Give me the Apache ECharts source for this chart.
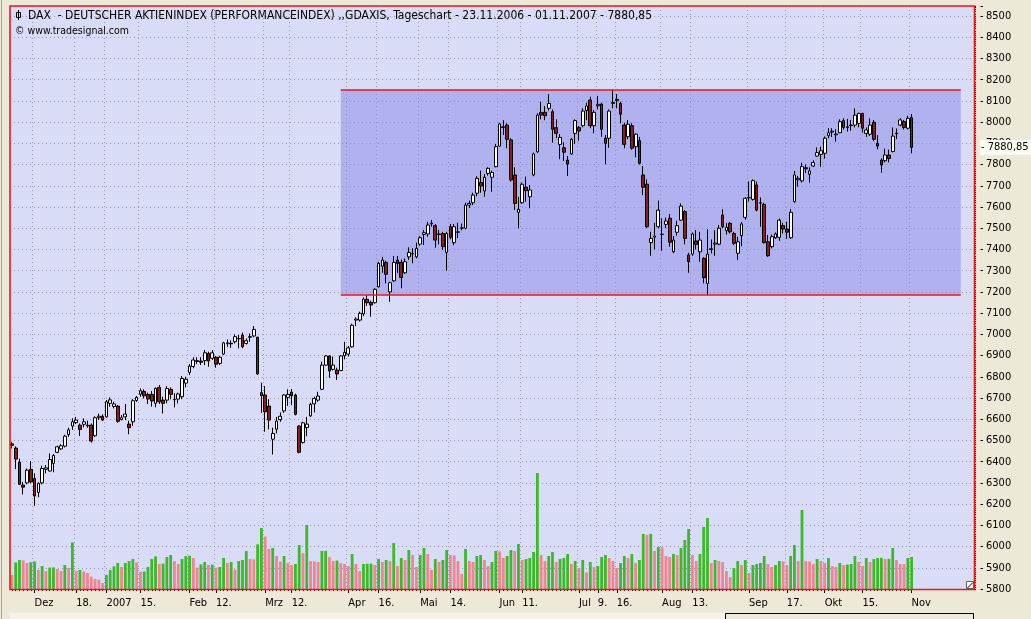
<!DOCTYPE html>
<html><head><meta charset="utf-8">
<script src="https://cdn.jsdelivr.net/npm/echarts/dist/echarts.min.js"></script>
<style>html,body{margin:0;padding:0;background:#ECE9D8;overflow:hidden}#c{width:1031px;height:619px}</style>
</head><body><div id="c"></div>
<script>
const FONT = '"Liberation Sans Narrow","DejaVu Sans Condensed","Liberation Sans",sans-serif';

// ---- calendar ----
const FIRST_DAY = '2006-11-23';
const HOLIDAYS = ['2006-12-25','2006-12-26','2007-01-01','2007-04-06','2007-04-09','2007-05-01','2007-05-28'];
const FUTURE_SLOTS = 16;

// ---- daily OHLC ----
const OPEN = [6484,6464,6397,6290,6300,6364,6321,6255,6300,6364,
6356,6392,6444,6460,6473,6527,6568,6584,6572,6576,
6568,6572,6522,6607,6614,6611,6675,6660,6662,6598,
6611,6577,6588,6688,6718,6731,6717,6717,6675,6750,
6690,6690,6741,6692,6695,6706,6770,6820,6848,6872,
6874,6876,6910,6887,6892,6863,6907,6957,6958,6965,
6980,6997,6957,6986,6992,6986,6725,6714,6662,6506,
6553,6598,6639,6703,6727,6714,6568,6490,6561,6616,
6672,6690,6741,6855,6898,6835,6832,6829,6899,6907,
6941,7067,7067,7096,7165,7151,7149,7224,7321,7339,
7200,7252,7350,7339,7290,7365,7379,7365,7425,7471,
7473,7520,7512,7473,7475,7386,7507,7432,7481,7500,
7500,7609,7620,7665,7715,7675,7758,7740,7790,7887,
7975,7986,7916,7751,7575,7620,7693,7648,7751,7860,
8046,8046,8065,8049,7974,7895,7879,7821,7850,7947,
7974,7983,8054,8104,7983,8077,8085,7924,7924,8088,
8101,8088,7986,7931,7983,7884,7913,7751,7707,7432,
7458,7507,7470,7518,7547,7389,7481,7538,7578,7374,
7378,7440,7389,7358,7240,7403,7425,7425,7562,7488,
7523,7475,7382,7465,7551,7643,7636,7704,7620,7612,
7436,7413,7455,7457,7512,7496,7455,7625,7728,7723,
7785,7754,7793,7840,7848,7853,7936,7953,7940,7950,
8007,7974,7983,7986,7994,8041,7947,7943,7999,7900,
7821,7818,7845,7861,7945,7986,8002,7971,8021];
const CLOSE = [6477,6412,6293,6280,6360,6305,6238,6298,6368,6371,
6410,6429,6470,6475,6520,6550,6588,6596,6552,6588,
6572,6497,6607,6614,6596,6682,6691,6672,6590,6607,
6624,6560,6687,6703,6734,6710,6695,6686,6745,6682,
6675,6745,6717,6694,6719,6792,6788,6850,6879,6876,
6868,6913,6874,6913,6859,6892,6960,6960,6955,6989,
6979,6941,6970,6989,7023,6813,6711,6635,6596,6533,
6591,6614,6714,6717,6711,6623,6444,6583,6577,6670,
6698,6709,6855,6898,6827,6855,6813,6898,6915,6936,
7043,7072,7099,7166,7149,7138,7212,7334,7350,7283,
7243,7339,7334,7268,7342,7386,7381,7405,7455,7479,
7515,7524,7444,7471,7413,7475,7457,7507,7483,7502,
7609,7617,7656,7735,7699,7740,7782,7763,7884,7991,
7978,7919,7727,7617,7589,7707,7677,7680,7850,8033,
8033,8030,8088,7966,7947,7928,7858,7802,7919,8007,
7958,8052,8076,7983,8046,8084,7966,7900,8052,8092,
8107,8037,7895,7990,7877,7943,7806,7693,7507,7452,
7463,7585,7472,7534,7434,7444,7512,7604,7452,7342,
7473,7424,7444,7267,7378,7400,7430,7500,7507,7504,
7483,7429,7436,7520,7641,7645,7724,7585,7618,7432,
7370,7460,7473,7538,7496,7481,7575,7751,7735,7790,
7780,7770,7809,7856,7865,7924,7950,7957,7944,8002,
7975,7978,7986,8033,8041,7971,7963,7986,7919,7887,
7798,7845,7829,7934,7948,8010,7975,8018,7880.85];
const LOW = [6462,6365,6290,6246,6293,6298,6192,6232,6293,6345,
6353,6350,6440,6455,6467,6517,6549,6577,6520,6562,
6560,6489,6517,6596,6591,6608,6659,6651,6583,6595,
6596,6529,6568,6682,6706,6698,6672,6659,6656,6672,
6627,6675,6694,6656,6675,6694,6750,6808,6840,6860,
6855,6855,6847,6880,6843,6855,6902,6941,6936,6957,
6934,6934,6952,6965,6986,6808,6630,6541,6552,6434,
6533,6588,6630,6663,6666,6618,6439,6486,6520,6611,
6632,6682,6737,6852,6795,6830,6785,6827,6882,6895,
6938,7039,7060,7086,7134,7083,7145,7221,7290,7240,
7153,7248,7288,7217,7285,7350,7335,7358,7418,7421,
7460,7507,7408,7424,7397,7300,7448,7420,7453,7490,
7495,7595,7609,7650,7667,7648,7748,7672,7787,7884,
7939,7877,7719,7586,7500,7615,7625,7594,7745,7855,
8013,8009,8054,7903,7924,7825,7817,7746,7845,7897,
7912,7975,8009,7971,7947,8060,7931,7801,7879,8065,
8065,7994,7877,7919,7870,7834,7800,7656,7500,7370,
7400,7500,7394,7500,7413,7382,7465,7534,7424,7290,
7370,7400,7342,7240,7186,7381,7370,7420,7500,7470,
7475,7420,7350,7415,7540,7625,7630,7580,7507,7428,
7365,7405,7450,7440,7475,7450,7449,7620,7696,7715,
7760,7715,7788,7837,7790,7828,7924,7930,7908,7947,
7965,7955,7960,7975,7975,7950,7930,7935,7910,7872,
7762,7810,7810,7858,7920,7980,7965,7965,7853];
const HIGH = [6494,6472,6414,6305,6368,6403,6345,6302,6381,6384,
6439,6436,6475,6482,6527,6560,6604,6611,6580,6604,
6593,6580,6614,6627,6623,6690,6703,6682,6667,6620,
6672,6593,6695,6709,6745,6741,6725,6733,6750,6761,
6706,6756,6750,6722,6725,6803,6800,6860,6892,6892,
6892,6926,6918,6926,6898,6898,6965,6976,6972,7000,
6997,7008,6981,7004,7039,6989,6772,6756,6694,6560,
6611,6632,6719,6741,6742,6720,6572,6588,6611,6678,
6706,6729,6871,6902,6902,6895,6843,6902,6965,6945,
7050,7080,7107,7174,7185,7159,7217,7342,7365,7347,
7248,7369,7369,7353,7358,7410,7405,7432,7463,7492,
7530,7539,7520,7492,7483,7483,7520,7520,7526,7522,
7620,7630,7667,7745,7771,7755,7787,7771,7897,7997,
8009,7994,7924,7787,7648,7715,7743,7704,7856,8041,
8096,8076,8132,8060,8013,7944,7905,7840,7924,8013,
7981,8065,8091,8120,8057,8123,8091,7939,8060,8153,
8132,8096,7997,8009,7995,7947,7930,7793,7730,7483,
7526,7630,7547,7550,7567,7463,7535,7617,7585,7384,
7480,7492,7483,7363,7495,7447,7490,7515,7589,7525,
7530,7483,7460,7530,7645,7720,7730,7720,7645,7620,
7468,7470,7480,7545,7525,7530,7590,7770,7746,7809,
7800,7787,7820,7881,7884,7932,7971,7971,7966,8013,
8018,8015,8010,8065,8044,8044,7975,8018,8010,7939,
7829,7875,7870,7975,7970,8018,8010,8030,8038];
// volume, Mio.
const VOLUME = [70,133,145,143,130,134,138,95,115,90,
107,108,100,90,120,105,233,90,95,88,
80,62,50,47,30,70,95,113,130,110,
130,140,150,133,87,88,110,150,163,125,
127,160,170,140,125,150,165,166,155,107,
123,135,120,122,107,110,155,130,135,97,
140,145,190,150,148,223,305,262,200,205,
165,137,165,130,120,125,220,180,320,140,
138,135,190,191,160,140,142,130,125,115,
175,125,90,125,126,127,120,150,135,145,
140,230,115,155,145,195,170,110,170,205,
175,95,150,135,145,195,170,168,140,75,
200,140,135,165,170,145,115,135,190,188,
155,165,195,190,225,145,150,155,185,580,
170,140,165,185,135,150,155,175,125,140,
105,145,83,135,110,115,160,170,155,140,
105,130,165,155,175,130,145,275,270,276,
190,210,209,165,160,175,170,205,245,300,
170,140,175,310,355,130,145,140,135,90,
60,105,140,120,145,80,120,125,130,165,
125,110,120,140,138,120,165,220,140,395,
140,138,125,150,140,130,155,115,110,130,
120,122,125,165,135,115,155,135,150,155,
156,150,151,205,145,125,124,155,160];

// ---- x tick labels ----
const TICK_DATES = ['01.12.2006','18.12.2006','02.01.2007','15.01.2007','01.02.2007','12.02.2007','01.03.2007','12.03.2007','02.04.2007','16.04.2007','02.05.2007','14.05.2007','01.06.2007','11.06.2007','02.07.2007','09.07.2007','16.07.2007','01.08.2007','13.08.2007','03.09.2007','17.09.2007','01.10.2007','15.10.2007','01.11.2007'];
const TICK_TEXT = ['Dez','18.','2007','15.','Feb','12.','Mrz','12.','Apr','16.','Mai','14.','Jun','11.','Jul','9.','16.','Aug','13.','Sep','17.','Okt','15.','Nov'];

// ---- trading range box ----
const RANGE_HIGH = 8153, RANGE_LOW = 7186;
const RANGE_FROM = '29.03.2007', RANGE_TO = '20.11.2007';

// ---- build categories ----
function pad(n){return n<10?'0'+n:''+n;}
function buildDays(startISO, count){
  const out=[]; const d=new Date(startISO+'T00:00:00Z');
  while(out.length<count){
    const wd=d.getUTCDay();
    const iso=d.getUTCFullYear()+'-'+pad(d.getUTCMonth()+1)+'-'+pad(d.getUTCDate());
    if(wd!==0&&wd!==6&&HOLIDAYS.indexOf(iso)<0){
      out.push(pad(d.getUTCDate())+'.'+pad(d.getUTCMonth()+1)+'.'+d.getUTCFullYear());
    }
    d.setUTCDate(d.getUTCDate()+1);
  }
  return out;
}
const N = OPEN.length;
const CATS = buildDays(FIRST_DAY, N + FUTURE_SLOTS);
const LABEL_OF = {}; TICK_DATES.forEach((d,i)=>{LABEL_OF[d]=TICK_TEXT[i];});
const isMajor = (idx)=> LABEL_OF[CATS[idx]] !== undefined;
const LAST = CLOSE[N-1];
const fmt = v => v.toFixed(2).replace('.', ',');

const GREEN = '#3CB82A', PINK = '#EE8590';
const GRIDC = '#9898B0';
const RED = '#F01418';

const chart = echarts.init(document.getElementById('c'), null, {renderer:'canvas'});
chart.setOption({
  animation:false,
  backgroundColor:'#ECE9D8',
  textStyle:{fontFamily:FONT},
  grid:{left:10, top:6, width:964, height:583, show:true, backgroundColor:'#D9DCF6', borderWidth:0, containLabel:false, outerBoundsMode:'none'},
  xAxis:[{
    type:'category', data:CATS, boundaryGap:true,
    axisLine:{show:false},
    axisTick:{show:true, alignWithLabel:true, interval:isMajor, length:4, lineStyle:{color:'#000'}},
    axisLabel:{show:true, interval:isMajor, formatter:(v)=>LABEL_OF[v]||'', align:'left', margin:9, color:'#000', fontSize:11, fontFamily:FONT, hideOverlap:false},
    splitLine:{show:true, interval:isMajor, lineStyle:{color:GRIDC, type:[1,3], width:1}}
  },{
    type:'category', data:CATS, boundaryGap:true, position:'bottom',
    axisLine:{show:false},
    axisTick:{show:true, alignWithLabel:true, interval:(i)=>i<N, length:2, lineStyle:{color:'#000'}},
    axisLabel:{show:false}, splitLine:{show:false}
  }],
  yAxis:[{
    type:'value', position:'right', min:5800, max:8547, interval:100, scale:false,
    axisLine:{show:false},
    axisTick:{show:true, length:9, lineStyle:{color:'#000', type:[2,4.5,3]}},
    minorTick:{show:true, splitNumber:10, length:2, lineStyle:{color:'#000'}},
    axisLabel:{margin:12, color:'#000', fontSize:11, fontFamily:FONT, showMaxLabel:false,
      formatter:(v)=> (Math.abs(v % 100) < 1e-6 ? String(v) : '')},
    splitLine:{show:true, lineStyle:{color:GRIDC, type:[1,3], width:1}}
  },{
    type:'value', min:0, max:2915, show:false, splitLine:{show:false}
  }],
  series:[{
    name:'Range', type:'line', data:[], z:1, silent:true,
    markArea:{silent:true, itemStyle:{color:'rgba(130,132,232,0.47)', borderWidth:0},
      data:[[{xAxis:RANGE_FROM, yAxis:RANGE_HIGH},{xAxis:RANGE_TO, yAxis:RANGE_LOW}]]}
  },{
    name:'Volumen', type:'bar', xAxisIndex:0, yAxisIndex:1, barWidth:2.8, z:2,
    data: VOLUME.map((v,i)=>({value:v, itemStyle:{color:(i>0 && v>VOLUME[i-1])?GREEN:PINK}}))
  },{
    name:'DAX', type:'candlestick', xAxisIndex:0, yAxisIndex:0, barWidth:3.2, z:3,
    data: OPEN.map((o,i)=>[o, CLOSE[i], LOW[i], HIGH[i]]),
    itemStyle:{color:'#FFFFFF', color0:'#8E1C1C', borderColor:'#000000', borderColor0:'#000000', borderWidth:1},
    markLine:{silent:true, symbol:['none','none'], lineStyle:{color:'rgba(0,0,0,0)', width:0},
      label:{show:true, position:'end', distance:6, formatter:'- '+fmt(LAST), color:'#000', fontSize:11, fontFamily:FONT,
        backgroundColor:'#FBFBF1', padding:[2,4,2,1]},
      data:[{yAxis:LAST}]}
  },{
    name:'RangeLines', type:'line', data:[], z:4, silent:true,
    markLine:{silent:true, symbol:['none','none'], label:{show:false},
      lineStyle:{color:RED, type:'solid', width:1.6, opacity:1},
      emphasis:{disabled:true},
      data:[[{coord:[RANGE_FROM, RANGE_HIGH]},{coord:[RANGE_TO, RANGE_HIGH]}],
            [{coord:[RANGE_FROM, RANGE_LOW]},{coord:[RANGE_TO, RANGE_LOW]}]]}
  }],
  graphic:[
    {type:'rect', silent:true, z:10, shape:{x:1, y:0, width:1, height:619}, style:{fill:'#A9A793'}},
    {type:'rect', silent:true, z:60, shape:{x:976, y:592, width:55, height:21}, style:{fill:'#ECE9D8'}},
    {type:'rect', silent:true, z:10, shape:{x:10, y:613, width:964, height:6}, style:{fill:'#F5F3E7'}},
    {type:'rect', silent:true, z:11, shape:{x:725.5, y:613.5, width:248, height:12}, style:{fill:'#ECE9D8', stroke:'#000', lineWidth:1}},
    {type:'rect', silent:true, z:50, shape:{x:10, y:6, width:964.5, height:583.5}, style:{fill:'none', stroke:RED, lineWidth:1.6}},
    {type:'rect', silent:true, z:51, shape:{x:966.5, y:581.5, width:7, height:7}, style:{fill:'#FFFFFF', stroke:'#606060', lineWidth:1}},
    {type:'line', silent:true, z:52, shape:{x1:967.5, y1:588, x2:973, y2:582.5}, style:{stroke:'#000', lineWidth:1}},
    {type:'rect', silent:true, z:20, shape:{x:16.5, y:12.5, width:4, height:5}, style:{fill:'none', stroke:'#000', lineWidth:1}},
    {type:'line', silent:true, z:20, shape:{x1:18.5, y1:10, x2:18.5, y2:20}, style:{stroke:'#000', lineWidth:1}},
    {type:'text', silent:true, z:20, x:28, y:15.5, style:{text:'DAX  - DEUTSCHER AKTIENINDEX (PERFORMANCEINDEX) ,,GDAXIS, Tageschart - '+CATS[0]+' - '+CATS[N-1]+' - '+fmt(LAST), fill:'#000', font:'12px '+FONT, textVerticalAlign:'middle', verticalAlign:'middle'}},
    {type:'text', silent:true, z:20, x:15, y:31, style:{text:'\u00A9 www.tradesignal.com', fill:'#000', font:'10.5px '+FONT, verticalAlign:'middle', textVerticalAlign:'middle'}}
  ]
});
</script></body></html>
